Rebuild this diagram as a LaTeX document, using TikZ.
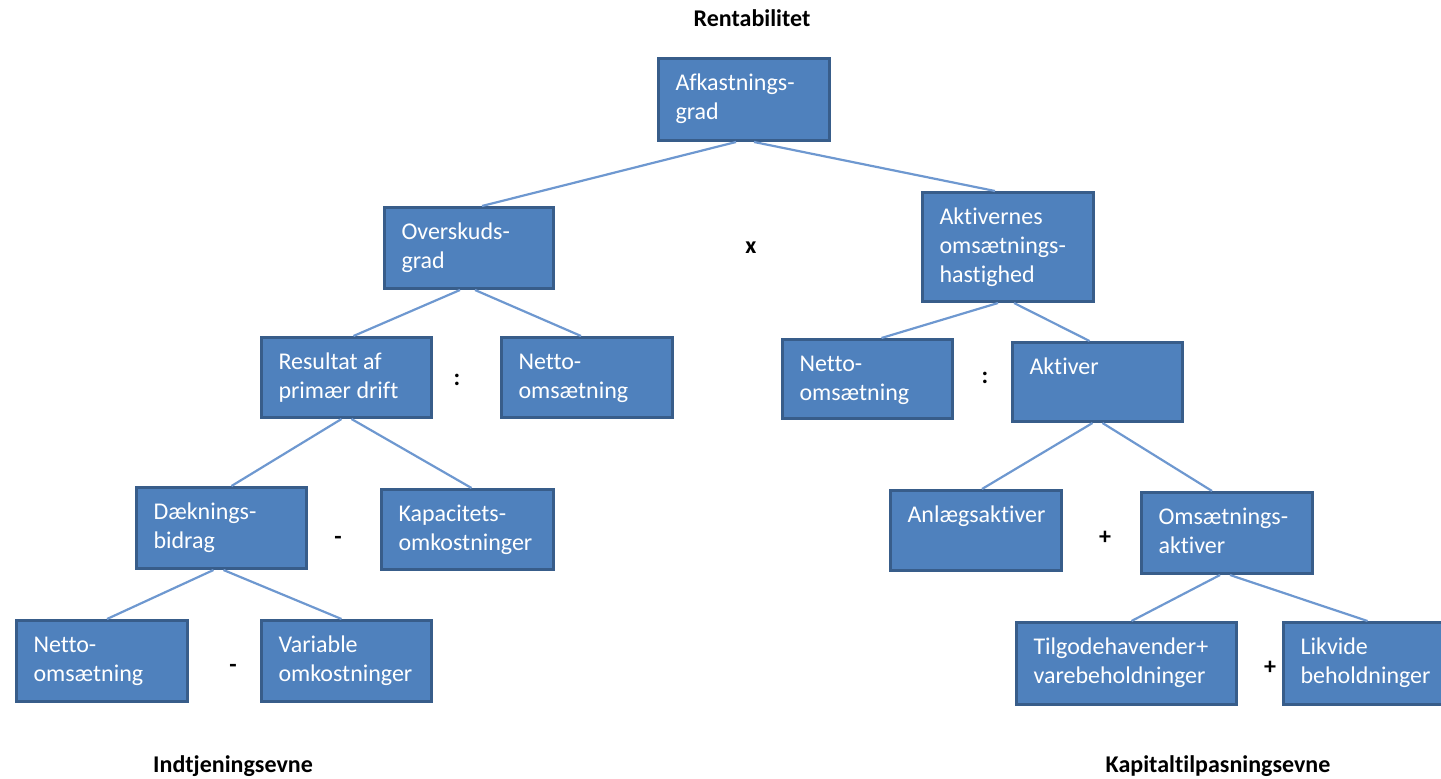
\documentclass[tikz,border=0pt]{standalone}
\usepackage{fontspec}
\setmainfont{Carlito}[Ligatures={NoCommon}]
\usetikzlibrary{shadows}
\definecolor{boxfill}{RGB}{79,129,189}
\definecolor{boxline}{RGB}{56,93,138}
\definecolor{connline}{RGB}{110,152,208}
\newcommand\bxt[3]{\parbox[c][#2pt][t]{#1pt}{\fontsize{24}{29}\selectfont\leftskip=17pt\rightskip=0pt plus 1fil\vspace*{12pt}\strut #3\par}}
\tikzset{
  box/.style={rectangle, fill=boxfill, draw=boxline, line width=3pt, inner sep=0pt, anchor=north west, text=white,
    drop shadow={shadow xshift=1.5pt, shadow yshift=-1.5pt, opacity=0.25}},
  conn/.style={draw=connline, line width=2.2pt},
  optxt/.style={font=\fontsize{24}{29}\selectfont\bfseries, text=black, inner sep=0pt},
  ttl/.style={font=\fontsize{24}{29}\selectfont\bfseries, text=black, inner sep=0pt}
}
\begin{document}
\begin{tikzpicture}[x=1pt,y=-1pt]
\useasboundingbox (0,0) rectangle (1441,779);
% titles
\node[ttl] (t1) at (752,18) {Rentabilitet};
\node[ttl] (t2) at (233,766) {Indtjeningsevne};
\node[ttl] (t3) at (1218,766) {Kapitaltilpasningsevne};
% boxes
\node[box] (afk) at (657,57) {\bxt{171}{82}{Afkastnings-\\grad}};
\node[box] (ovr) at (383,206) {\bxt{169}{81}{Overskuds-\\grad}};
\node[box] (akt) at (921,191) {\bxt{171}{109}{Aktivernes\\omsætnings-\\hastighed}};
\node[box] (res) at (260,336) {\bxt{170}{80}{Resultat af\\primær drift}};
\node[box] (nomA) at (500,336) {\bxt{171}{80}{Netto-\\omsætning}};
\node[box] (nomB) at (781,338) {\bxt{170}{79}{Netto-\\omsætning}};
\node[box] (aktv) at (1011,341) {\bxt{170}{79}{Aktiver}};
\node[box] (daek) at (135,486) {\bxt{170}{81}{Dæknings-\\bidrag}};
\node[box] (kap) at (380,488) {\bxt{172}{80}{Kapacitets-\\omkostninger}};
\node[box] (anl) at (889,489) {\bxt{171}{80}{Anlægsaktiver}};
\node[box] (oms) at (1140,491) {\bxt{171}{81}{Omsætnings-\\aktiver}};
\node[box] (nomC) at (15,619) {\bxt{171}{81}{Netto-\\omsætning}};
\node[box] (var) at (260,619) {\bxt{170}{81}{Variable\\omkostninger}};
\node[box] (tilg) at (1015,621) {\bxt{220}{82}{Tilgodehavender+\\varebeholdninger}};
\node[box] (likv) at (1282,621) {\bxt{170}{82}{Likvide\\beholdninger}};
% operators
\node[optxt] (o1) at (751,248) {x};
\node[optxt] (o2) at (457,380) {:};
\node[optxt] (o3) at (985,378) {:};
\node[optxt] (o4) at (338,540) {-};
\node[optxt] (o5) at (1105,538) {+};
\node[optxt] (o6) at (233,668) {-};
\node[optxt] (o7) at (1270,668) {+};
% connectors
\draw[conn] ([xshift=-8pt]afk.south) -- ([xshift=13pt]ovr.north);
\draw[conn] ([xshift=10pt]afk.south) -- ([xshift=-13pt]akt.north);
\draw[conn] ([xshift=-9pt]ovr.south) -- ([xshift=7pt]res.north);
\draw[conn] ([xshift=6pt]ovr.south) -- ([xshift=-6pt]nomA.north);
\draw[conn] ([xshift=-10pt]akt.south) -- ([xshift=14pt]nomB.north);
\draw[conn] ([xshift=6pt]akt.south) -- ([xshift=-8pt]aktv.north);
\draw[conn] ([xshift=-5pt]res.south) -- ([xshift=10pt]daek.north);
\draw[conn] ([xshift=5pt]res.south) -- ([xshift=4pt]kap.north);
\draw[conn] ([xshift=-5pt]aktv.south) -- ([xshift=6pt]anl.north);
\draw[conn] ([xshift=5pt]aktv.south) -- ([xshift=-15pt]oms.north);
\draw[conn] ([xshift=-8pt]daek.south) -- ([xshift=5pt]nomC.north);
\draw[conn] ([xshift=2pt]daek.south) -- ([xshift=-5pt]var.north);
\draw[conn] ([xshift=-7pt]oms.south) -- ([xshift=5pt]tilg.north);
\draw[conn] ([xshift=3pt]oms.south) -- ([xshift=-1pt]likv.north);
\end{tikzpicture}
\end{document}
